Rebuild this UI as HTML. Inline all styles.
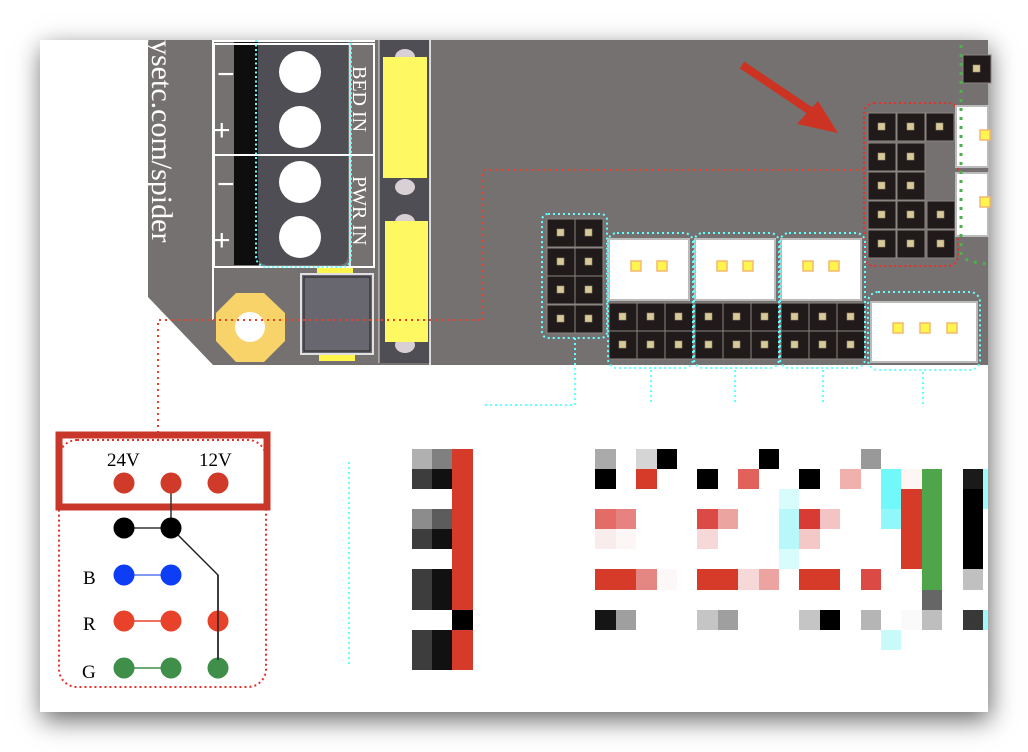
<!DOCTYPE html>
<html><head><meta charset="utf-8"><style>
html,body{margin:0;padding:0;background:#fff;}
#wrap{position:relative;width:1028px;height:752px;overflow:hidden;background:#fff;}
#card{position:absolute;left:40px;top:40px;width:948px;height:672px;background:#fff;box-shadow:2px 8px 24px rgba(0,0,0,0.6);}
svg{position:absolute;left:0;top:0;}
</style></head><body><div id="wrap"><div id="card"></div>
<svg width="1028" height="752" viewBox="0 0 1028 752" font-family="Liberation Serif, serif">
<defs>
<g id="cell"><rect width="28" height="28" fill="#201a1a" stroke="#8a8580" stroke-width="1"/><rect x="10" y="10" width="7" height="7" fill="#d8c998" stroke="#9a8f70" stroke-width="0.6"/></g>
<g id="ypin"><rect width="10" height="10" fill="#fff54c" stroke="#f2b870" stroke-width="1.5"/></g>
</defs>
<polygon points="148,40 988,40 988,365 213,365 148,297" fill="#757170"/>
<text transform="translate(152,40) rotate(90)" fill="#fff" font-size="30">ysetc.com/spider</text>
<line x1="213" y1="40" x2="213" y2="320" stroke="#fff" stroke-width="2"/>
<rect x="234" y="40" width="25" height="225" fill="#0e0e0e"/>
<path d="M258,40 H348 V255 Q348,265 338,265 H268 Q258,265 258,255 Z" fill="#4f4e54"/>
<rect x="213" y="40" width="162" height="2" fill="#fff"/>
<rect x="214" y="44" width="160" height="111" fill="none" stroke="#fff" stroke-width="2"/>
<rect x="214" y="155" width="160" height="112" fill="none" stroke="#fff" stroke-width="2"/>
<line x1="350" y1="44" x2="350" y2="267" stroke="#fff" stroke-width="1.5"/>
<circle cx="300" cy="72" r="21" fill="#fff"/><circle cx="300" cy="127" r="21" fill="#fff"/>
<circle cx="300" cy="182" r="21" fill="#fff"/><circle cx="300" cy="237" r="21" fill="#fff"/>
<g fill="#fff" font-size="30" font-family="Liberation Sans, sans-serif"><text x="217" y="84">−</text><text x="213" y="140">+</text><text x="217" y="194">−</text><text x="213" y="250">+</text></g>
<text transform="translate(353,66) rotate(90)" fill="#fff" font-size="20">BED IN</text>
<text transform="translate(353,176) rotate(90)" fill="#fff" font-size="20">PWR IN</text>
<path d="M256,40 V255 Q256,267 268,267 H342 Q351,267 351,255 V40" fill="none" stroke="#6ff" stroke-width="2" stroke-dasharray="2,2.5"/>
<polygon points="236,293 264,293 285,313 285,341 264,362 236,362 216,341 216,313" fill="#f8d36a"/>
<circle cx="250" cy="327" r="15" fill="#fff"/>
<rect x="317" y="268" width="36" height="8" fill="#fff54c"/><rect x="319" y="352" width="36" height="9" fill="#fff54c"/>
<rect x="301" y="274" width="72" height="80" fill="#68676f" stroke="#e0e0e0" stroke-width="2"/>
<rect x="304" y="277" width="66" height="74" fill="none" stroke="#222" stroke-width="1"/>
<rect x="379" y="40" width="51" height="323" fill="#4f4e54"/>
<line x1="379" y1="40" x2="379" y2="363" stroke="#ddd" stroke-width="1"/>
<line x1="430" y1="40" x2="430" y2="365" stroke="#fff" stroke-width="1.5"/>
<ellipse cx="405" cy="57" rx="10" ry="8" fill="#d8d0d4"/><ellipse cx="405" cy="187" rx="10" ry="8" fill="#d8d0d4"/>
<ellipse cx="405" cy="222" rx="10" ry="8" fill="#d8d0d4"/><ellipse cx="405" cy="345" rx="10" ry="8" fill="#d8d0d4"/>
<rect x="383" y="57" width="44" height="121" fill="#fef862"/>
<rect x="385" y="221" width="43" height="121" fill="#fef862"/>
<path d="M158,433 V320 H483 V170 H866" fill="none" stroke="#e8402a" stroke-width="2" stroke-dasharray="2,4"/>
<line x1="742" y1="65" x2="812" y2="112" stroke="#cc3322" stroke-width="8"/>
<polygon points="838,133 797,124 818,101" fill="#cc3322"/>
<g>
<use href="#cell" x="868" y="113"/><use href="#cell" x="897" y="113"/><use href="#cell" x="926" y="113"/>
<use href="#cell" x="868" y="143"/><use href="#cell" x="897" y="143"/>
<use href="#cell" x="868" y="172"/><use href="#cell" x="897" y="172"/>
<use href="#cell" x="868" y="201"/><use href="#cell" x="897" y="201"/><use href="#cell" x="927" y="201"/>
<use href="#cell" x="868" y="230"/><use href="#cell" x="897" y="230"/><use href="#cell" x="927" y="230"/>
</g>
<rect x="864" y="103" width="94" height="163" rx="10" fill="none" stroke="#e8302a" stroke-width="2" stroke-dasharray="2,3"/>
<use href="#cell" x="963" y="55"/>
<rect x="956" y="106" width="32" height="61" fill="#fff" stroke="#bbb" stroke-width="2"/>
<rect x="956" y="173" width="32" height="63" fill="#fff" stroke="#bbb" stroke-width="2"/>
<use href="#ypin" x="980" y="130"/><use href="#ypin" x="980" y="197"/>
<path d="M961,45 V255 Q965,262 988,264" fill="none" stroke="#4caf50" stroke-width="3" stroke-dasharray="3,6"/>
<g>
<use href="#cell" x="547" y="219"/><use href="#cell" x="575" y="219"/>
<use href="#cell" x="547" y="248"/><use href="#cell" x="575" y="248"/>
<use href="#cell" x="547" y="276"/><use href="#cell" x="575" y="276"/>
<use href="#cell" x="547" y="305"/><use href="#cell" x="575" y="305"/>
</g>
<g fill="none" stroke="#6ff" stroke-width="2" stroke-dasharray="2,3">
<rect x="542" y="214" width="65" height="124" rx="6"/>
<path d="M575,338 V405 H482"/>
<path d="M651,370 V405"/><path d="M735,370 V405"/><path d="M823,370 V405"/><path d="M923,372 V405"/>
<path d="M349,462 V665"/>
</g>
<g id="grp">
<rect x="609" y="239" width="80" height="61" fill="#fff" stroke="#bbb" stroke-width="2"/>
<use href="#ypin" x="631" y="261"/><use href="#ypin" x="657" y="261"/>
<use href="#cell" x="609" y="303"/><use href="#cell" x="637" y="303"/><use href="#cell" x="665" y="303"/>
<use href="#cell" x="609" y="331"/><use href="#cell" x="637" y="331"/><use href="#cell" x="665" y="331"/>
<rect x="608" y="233" width="85" height="135" rx="9" fill="none" stroke="#6ff" stroke-width="2" stroke-dasharray="2,3"/>
</g>
<use href="#grp" x="86"/><use href="#grp" x="172"/>
<rect x="871" y="302" width="106" height="60" fill="#fff" stroke="#bbb" stroke-width="2"/>
<use href="#ypin" x="893" y="323"/><use href="#ypin" x="920" y="323"/><use href="#ypin" x="947" y="323"/>
<rect x="868" y="292" width="112" height="78" rx="10" fill="none" stroke="#6ff" stroke-width="2" stroke-dasharray="2,3"/>
<rect x="59" y="440" width="207" height="247" rx="18" fill="none" stroke="#e8302a" stroke-width="2" stroke-dasharray="2,3"/>
<rect x="59" y="435" width="208" height="72" fill="none" stroke="#c9372a" stroke-width="7"/>
<g font-size="19" fill="#000"><text x="107" y="466">24V</text><text x="199" y="466">12V</text>
<text x="83" y="584">B</text><text x="83" y="630">R</text><text x="82" y="678">G</text></g>
<g stroke-width="1.5" fill="none">
<line x1="171" y1="483" x2="171" y2="528" stroke="#333"/>
<line x1="124" y1="528" x2="171" y2="528" stroke="#333"/>
<polyline points="171,528 218,575 218,668" stroke="#222"/>
<line x1="124" y1="575" x2="171" y2="575" stroke="#5577ee"/>
<line x1="124" y1="621" x2="171" y2="621" stroke="#e8432a"/>
<line x1="124" y1="668" x2="171" y2="668" stroke="#3f8e4a"/>
</g>
<g>
<circle cx="124" cy="483" r="10.5" fill="#d03a28"/><circle cx="171" cy="483" r="10.5" fill="#d03a28"/><circle cx="218" cy="483" r="10.5" fill="#d03a28"/>
<circle cx="124" cy="528" r="10.5" fill="#000"/><circle cx="171" cy="528" r="10.5" fill="#000"/>
<circle cx="124" cy="575" r="10.5" fill="#0d3df5"/><circle cx="171" cy="575" r="10.5" fill="#0d3df5"/>
<circle cx="124" cy="621" r="10.5" fill="#e8432a"/><circle cx="171" cy="621" r="10.5" fill="#e8432a"/><circle cx="218" cy="621" r="10.5" fill="#e8432a"/>
<circle cx="124" cy="668" r="10.5" fill="#3f8e4a"/><circle cx="171" cy="668" r="10.5" fill="#3f8e4a"/><circle cx="218" cy="668" r="10.5" fill="#3f8e4a"/>
</g>
<line x1="218" y1="575" x2="218" y2="660" stroke="#222" stroke-width="1.5"/>
<g>
<rect x="412" y="449" width="20" height="20" fill="#b0b0b0"/><rect x="432" y="449" width="20" height="20" fill="#808080"/>
<rect x="412" y="469" width="20" height="20" fill="#3d3d3d"/><rect x="432" y="469" width="20" height="20" fill="#111"/>
<rect x="412" y="509" width="20" height="20" fill="#8c8c8c"/><rect x="432" y="509" width="20" height="20" fill="#5c5c5c"/>
<rect x="412" y="529" width="20" height="20" fill="#3d3d3d"/><rect x="432" y="529" width="20" height="20" fill="#111"/>
<rect x="412" y="569" width="20" height="41" fill="#3d3d3d"/><rect x="432" y="569" width="20" height="41" fill="#111"/>
<rect x="412" y="630" width="20" height="40" fill="#3d3d3d"/><rect x="432" y="630" width="20" height="40" fill="#111"/>
<rect x="452" y="449" width="21" height="161" fill="#d63a28"/>
<rect x="452" y="610" width="21" height="20" fill="#000"/>
<rect x="452" y="630" width="21" height="40" fill="#d63a28"/>
</g>
<g>
<rect x="595" y="449" width="21" height="20" fill="#aaa"/><rect x="636" y="449" width="21" height="20" fill="#d5d5d5"/><rect x="657" y="449" width="20" height="20" fill="#000"/><rect x="759" y="449" width="20" height="20" fill="#000"/><rect x="861" y="449" width="20" height="20" fill="#999"/>
<rect x="595" y="469" width="21" height="20" fill="#000"/><rect x="636" y="469" width="21" height="20" fill="#d63a28"/><rect x="697" y="469" width="21" height="20" fill="#000"/><rect x="738" y="469" width="21" height="20" fill="#e0625a"/><rect x="799" y="469" width="21" height="20" fill="#000"/><rect x="840" y="469" width="21" height="20" fill="#f0b0ac"/><rect x="881" y="469" width="20" height="40" fill="#70f8fa"/><rect x="901" y="469" width="21" height="20" fill="#fdf6f3"/>
<rect x="922" y="469" width="20" height="121" fill="#4fa64a"/><rect x="922" y="590" width="20" height="20" fill="#666"/>
<rect x="963" y="469" width="20" height="20" fill="#1a1a1a"/><rect x="963" y="489" width="20" height="80" fill="#000"/>
<rect x="779" y="489" width="20" height="20" fill="#d8fcfc"/><rect x="901" y="489" width="21" height="80" fill="#d63a28"/>
<rect x="595" y="509" width="21" height="20" fill="#e36c66"/><rect x="616" y="509" width="20" height="20" fill="#e68280"/><rect x="697" y="509" width="21" height="20" fill="#db4a44"/><rect x="718" y="509" width="20" height="20" fill="#eca4a0"/><rect x="779" y="509" width="20" height="40" fill="#b8f8fa"/><rect x="799" y="509" width="21" height="20" fill="#d83a34"/><rect x="820" y="509" width="20" height="20" fill="#f4c4c4"/><rect x="881" y="509" width="20" height="20" fill="#90f8fa"/>
<rect x="595" y="529" width="21" height="20" fill="#f9ecec"/><rect x="616" y="529" width="20" height="20" fill="#fdf6f6"/><rect x="697" y="529" width="21" height="20" fill="#f7d8d8"/><rect x="799" y="529" width="21" height="20" fill="#f4c8c6"/>
<rect x="779" y="549" width="20" height="20" fill="#d8fcfc"/>
<rect x="595" y="569" width="41" height="21" fill="#d63a28"/><rect x="636" y="569" width="21" height="21" fill="#e48682"/><rect x="657" y="569" width="20" height="21" fill="#fcf8f7"/><rect x="697" y="569" width="41" height="21" fill="#d63a28"/><rect x="738" y="569" width="21" height="21" fill="#f6d8d8"/><rect x="759" y="569" width="20" height="21" fill="#eca4a0"/><rect x="799" y="569" width="41" height="21" fill="#d63a28"/><rect x="861" y="569" width="20" height="21" fill="#dc4a46"/><rect x="963" y="569" width="20" height="21" fill="#c0c0c0"/>
<rect x="595" y="610" width="21" height="20" fill="#151515"/><rect x="616" y="610" width="20" height="20" fill="#9f9f9f"/><rect x="697" y="610" width="21" height="20" fill="#c5c5c5"/><rect x="718" y="610" width="20" height="20" fill="#9f9f9f"/><rect x="799" y="610" width="21" height="20" fill="#c5c5c5"/><rect x="820" y="610" width="20" height="20" fill="#000"/><rect x="861" y="610" width="20" height="20" fill="#b5b5b5"/><rect x="901" y="610" width="21" height="20" fill="#fafafa"/><rect x="922" y="610" width="20" height="20" fill="#bebebe"/><rect x="963" y="610" width="20" height="20" fill="#383838"/>
<rect x="881" y="630" width="20" height="20" fill="#c8fafa"/>
<rect x="983" y="469" width="5" height="40" fill="#a0fafa"/><rect x="983" y="610" width="5" height="20" fill="#a0fafa"/>
</g>
</svg></div></body></html>
